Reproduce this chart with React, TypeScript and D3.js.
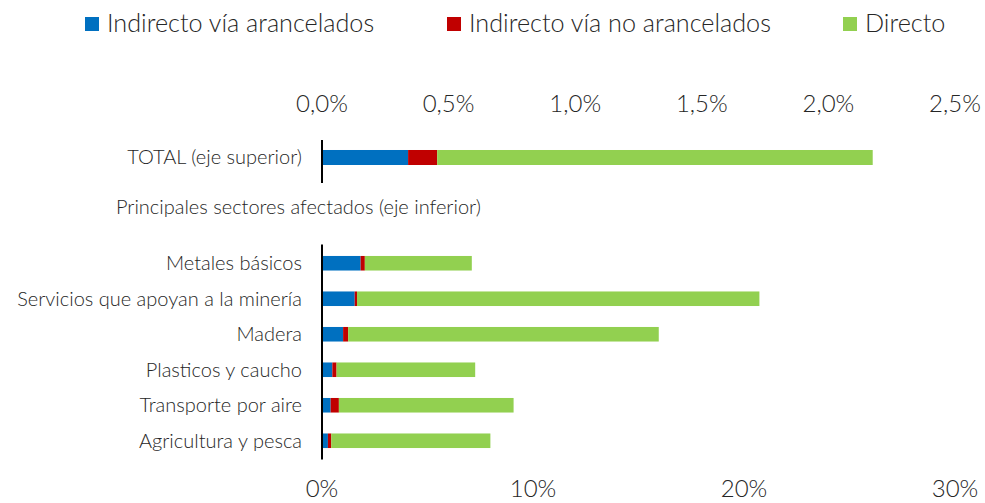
import React from "react";
import * as d3 from "d3";

const seriesNames = ["Indirecto vía arancelados", "Indirecto vía no arancelados", "Directo"];
const seriesColors = ["#0070C0", "#C00000", "#92D050"];

const totalLabel = ["TOTAL (eje superior)"];
const totalValues = [0.34, 0.115, 1.72]; // % (top axis)

const sectionLabel = "Principales sectores afectados (eje inferior)";

const categories = [
  "Metales básicos",
  "Servicios que apoyan a la minería",
  "Madera",
  "Plasticos y caucho",
  "Transporte por aire",
  "Agricultura y pesca",
];
const indirectoArancelados = [1.83, 1.55, 1.0, 0.49, 0.41, 0.28];
const indirectoNoArancelados = [0.2, 0.11, 0.24, 0.2, 0.39, 0.16];
const directo = [5.07, 19.07, 14.72, 6.57, 8.28, 7.54];

const topTicks = [0, 0.5, 1.0, 1.5, 2.0, 2.5];
const bottomTicks = [0, 10, 20, 30];

const W = 985;
const H = 503;
const FONT = "Lato, 'Open Sans', sans-serif";
const TEXT = "#262626";
const WEIGHT = 300;

const locale = d3.formatLocale({ decimal: ",", thousands: ".", grouping: [3], currency: ["", "€"] });
const fmtTop = (v: number) => locale.format(".1f")(v) + "%";
const fmtBottom = (v: number) => locale.format(".0f")(v) + "%";

export default function App() {
  const x0 = 322;
  const x1 = 955;
  const xTop = d3.scaleLinear().domain([0, 2.5]).range([x0, x1]);
  const xBottom = d3.scaleLinear().domain([0, 30]).range([x0, x1]);

  const yTop = d3.scaleBand().domain(totalLabel).range([140, 183]).paddingInner(0).paddingOuter(0.933).align(0.357);
  const yBottom = d3.scaleBand().domain(categories).range([244.5, 459.5]).paddingInner(0.59).paddingOuter(0.323);

  const keys = ["a", "b", "c"];
  const bottomRows = categories.map((c, i) => ({
    cat: c,
    a: indirectoArancelados[i],
    b: indirectoNoArancelados[i],
    c: directo[i],
  }));
  const topRows = [{ cat: totalLabel[0], a: totalValues[0], b: totalValues[1], c: totalValues[2] }];
  const stack = d3.stack<any>().keys(keys);
  const bottomStack = stack(bottomRows);
  const topStack = stack(topRows);

  const legendItems = [
    { x: 85, name: seriesNames[0], color: seriesColors[0] },
    { x: 447, name: seriesNames[1], color: seriesColors[1] },
    { x: 843, name: seriesNames[2], color: seriesColors[2] },
  ];

  return (
    <svg width={W} height={H} style={{ position: "absolute", left: 0, top: 0, background: "#fff" }} fontFamily={FONT}>
      {/* legend */}
      {legendItems.map((l) => (
        <g key={l.name}>
          <rect x={l.x} y={17} width={14} height={14} fill={l.color} />
          <text x={l.x + 22} y={32} fontSize={25.2} fill={TEXT} fontWeight={WEIGHT}>
            {l.name}
          </text>
        </g>
      ))}

      {/* top axis ticks */}
      {topTicks.map((t) => (
        <text key={"t" + t} x={xTop(t)} y={112} textAnchor="middle" fontSize={24} fill={TEXT} fontWeight={WEIGHT}>
          {fmtTop(t)}
        </text>
      ))}

      {/* bottom axis ticks */}
      {bottomTicks.map((t) => (
        <text key={"b" + t} x={xBottom(t)} y={497} textAnchor="middle" fontSize={24} fill={TEXT} fontWeight={WEIGHT}>
          {fmtBottom(t)}
        </text>
      ))}

      {/* total bar */}
      {topStack.map((s, si) =>
        s.map((d, di) => (
          <rect
            key={"ts" + si + di}
            x={xTop(d[0])}
            y={yTop(topRows[di].cat)}
            width={xTop(d[1]) - xTop(d[0])}
            height={yTop.bandwidth()}
            fill={seriesColors[si]}
          />
        ))
      )}
      {totalLabel.map((c) => (
        <text key={c} x={302} y={(yTop(c) as number) + yTop.bandwidth() / 2} dy="0.35em" textAnchor="end" fontSize={20} fill={TEXT} fontWeight={WEIGHT}>
          {c}
        </text>
      ))}
      <line x1={x0} x2={x0} y1={yTop.range()[0]} y2={yTop.range()[1]} stroke="#000" strokeWidth={2} />

      {/* section label */}
      <text x={116} y={214} fontSize={20} fill={TEXT} fontWeight={WEIGHT}>
        {sectionLabel}
      </text>

      {/* sector bars */}
      {bottomStack.map((s, si) =>
        s.map((d, di) => (
          <rect
            key={"bs" + si + di}
            x={xBottom(d[0])}
            y={yBottom(bottomRows[di].cat)}
            width={xBottom(d[1]) - xBottom(d[0])}
            height={yBottom.bandwidth()}
            fill={seriesColors[si]}
          />
        ))
      )}
      {categories.map((c) => (
        <text key={c} x={302} y={(yBottom(c) as number) + yBottom.bandwidth() / 2} dy="0.35em" textAnchor="end" fontSize={20} fill={TEXT} fontWeight={WEIGHT}>
          {c}
        </text>
      ))}
      <line x1={x0} x2={x0} y1={yBottom.range()[0]} y2={yBottom.range()[1]} stroke="#000" strokeWidth={2} />
    </svg>
  );
}
